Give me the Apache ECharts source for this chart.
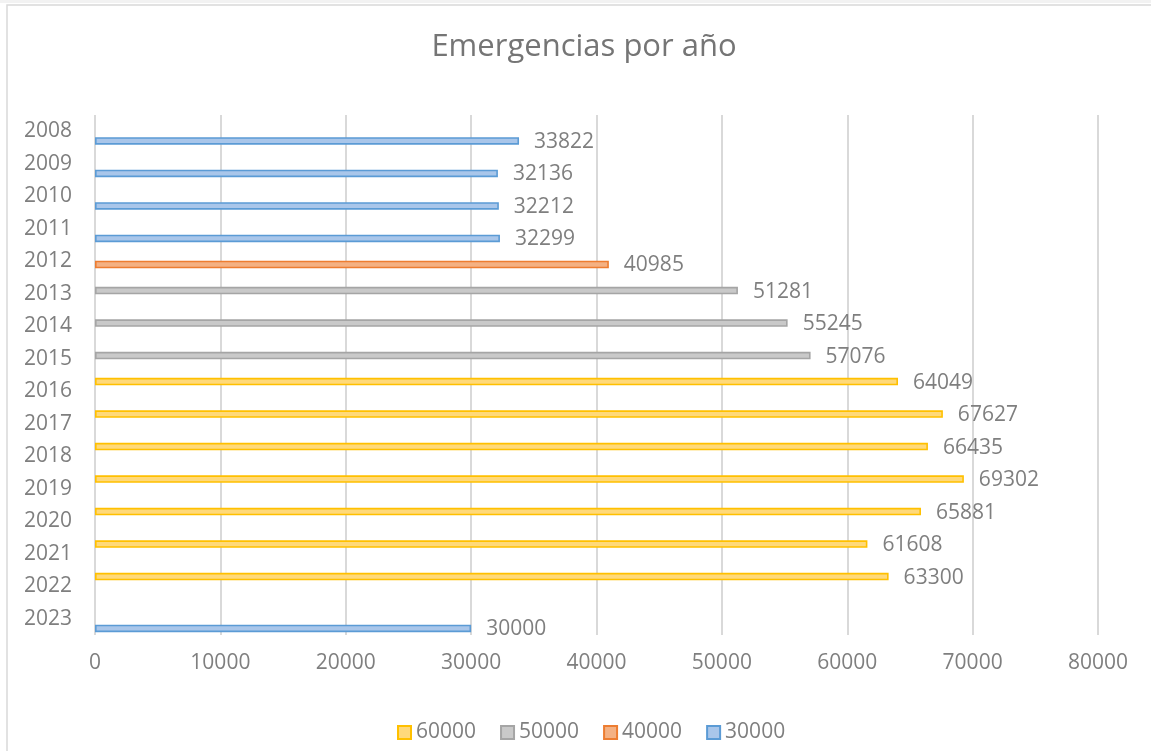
<!DOCTYPE html>
<html>
<head>
<meta charset="utf-8">
<script src="https://cdn.jsdelivr.net/npm/echarts@6/dist/echarts.min.js"></script>
<style>
html,body{margin:0;padding:0;background:#fff;}
#chart{width:1151px;height:751px;}
</style>
</head>
<body>
<div id="chart"></div>
<script>
const years = ['2008','2009','2010','2011','2012','2013','2014','2015','2016','2017','2018','2019','2020','2021','2022','2023'];
const seriesNames = ['60000','50000','40000','30000'];
const s60000 = [null,null,null,null,null,null,null,null,64049,67627,66435,69302,65881,61608,63300,null];
const s50000 = [null,null,null,null,null,51281,55245,57076,null,null,null,null,null,null,null,null];
const s40000 = [null,null,null,null,40985,null,null,null,null,null,null,null,null,null,null,null];
const s30000 = [33822,32136,32212,32299,null,null,null,null,null,null,null,null,null,null,null,30000];
const xTicks = [0,10000,20000,30000,40000,50000,60000,70000,80000];

const FONT = '"Open Sans", sans-serif';
const TXT = '#7f7f7f';
const fills = ['#ffd97a','#c9c9c9','#f4b183','#a9c6ea'];
const borders = ['#ffc000','#a5a5a5','#ed7d31','#5b9bd5'];
const datas = [s60000,s50000,s40000,s30000];

const chart = echarts.init(document.getElementById('chart'));
chart.setOption({
  animation:false,
  backgroundColor:'#fff',
  graphic:[
    {type:'rect', shape:{x:0,y:0,width:1151,height:3}, style:{fill:'#f2f2f2'}, silent:true},
    {type:'rect', shape:{x:7,y:5,width:1300,height:900}, style:{fill:'none',stroke:'#d9d9d9',lineWidth:1.5}, silent:true}
  ],
  title:{
    text:'Emergencias por año',
    left:579, textAlign:'center', top:27,
    textStyle:{fontFamily:FONT,fontSize:31,fontWeight:'normal',color:'#757575'}
  },
  legend:{
    bottom:3, left:392,
    itemWidth:13, itemHeight:13, itemGap:24,
    icon:'rect',
    data:seriesNames,
    textStyle:{fontFamily:FONT,fontSize:21,color:TXT}
  },
  grid:{left:95,right:53,top:115,bottom:116,containLabel:false},
  xAxis:{
    type:'value', min:0, max:80000, interval:10000,
    axisLine:{show:false}, axisTick:{show:false},
    axisLabel:{fontFamily:FONT,fontSize:21,color:TXT,margin:18,
      formatter:function(v){return String(v);}},
    splitLine:{show:true,lineStyle:{color:'#d9d9d9',width:2}}
  },
  yAxis:{
    type:'category', data:years, inverse:true,
    axisLine:{show:false}, axisTick:{show:false},
    axisLabel:{fontFamily:FONT,fontSize:21,color:TXT,margin:23}
  },
  series: seriesNames.map((n,i)=>({
    name:n, type:'bar', data:datas[i],
    barWidth:7.5, barGap:'-14%',
    itemStyle:{color:fills[i],borderColor:borders[i],borderWidth:1.6},
    label:{show:true,position:'right',distance:15,offset:[0,1],fontFamily:FONT,fontSize:21,color:TXT}
  }))
});
</script>
</body>
</html>
